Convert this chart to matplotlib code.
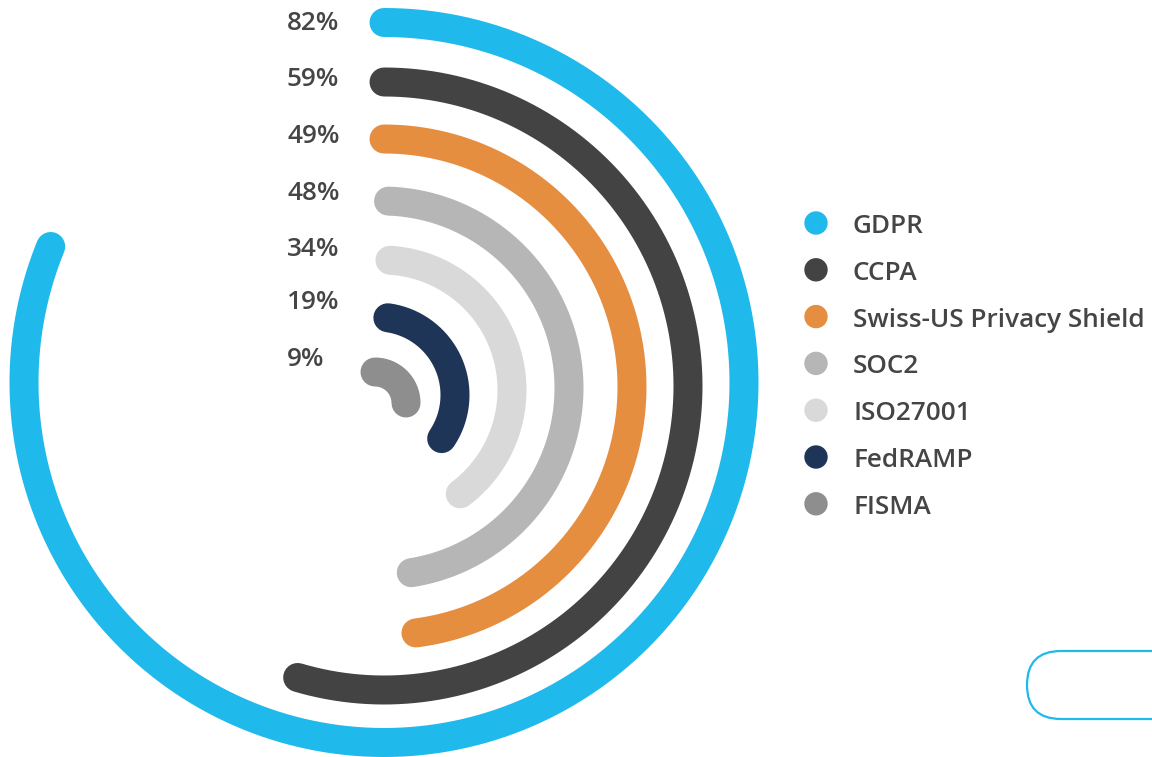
import numpy as np
import matplotlib
matplotlib.use("Agg")
import matplotlib.pyplot as plt
from matplotlib.patches import FancyBboxPatch, Circle

# ---- data ----
categories = ["GDPR", "CCPA", "Swiss-US Privacy Shield", "SOC2", "ISO27001", "FedRAMP", "FISMA"]
percent_values = [82, 59, 49, 48, 34, 19, 9]
# arc end angle (degrees clockwise from 12 o'clock) as drawn in the picture
arc_end_deg = [292.2, 196.5, 172.6, 171.0, 143.0, 124.0, 90.0]
colors = ["#1fb9ec", "#434343", "#e58e40", "#b6b6b6", "#d9d9d9", "#1e3558", "#8e8e8e"]

# ---- layout (pixels) ----
W, H = 1152, 757
ring_cx = [384, 384, 384, 382, 382, 377, 375]
ring_cy = [382.5, 386, 387, 388, 390, 395, 403]
ring_r = [360, 304, 248, 187, 130, 78, 31]
arc_start_deg = [0, 0, 0, 2, 3.5, 8, 0]
lw_px = 29
text_color = "#454545"
font = ["Open Sans", "DejaVu Sans"]
fsize = 18.8

fig = plt.figure(figsize=(W / 100, H / 100), dpi=100)
ax = fig.add_axes([0, 0, 1, 1])
ax.set_xlim(0, W)
ax.set_ylim(H, 0)
ax.axis("off")

lw_pt = lw_px * 72 / 100

for i, cat in enumerate(categories):
    th = np.radians(np.linspace(arc_start_deg[i], arc_end_deg[i], 400))
    x = ring_cx[i] + ring_r[i] * np.sin(th)
    y = ring_cy[i] - ring_r[i] * np.cos(th)
    ax.plot(x, y, color=colors[i], lw=lw_pt, solid_capstyle="round", zorder=2)

# percentage labels
label_baselines = [30, 86, 143, 200, 256, 309, 366]
for i, v in enumerate(percent_values):
    ax.text(287, label_baselines[i], f"{v}%", ha="left", va="baseline",
            fontsize=fsize, color=text_color, family=font, fontweight="semibold")

# legend
for i, cat in enumerate(categories):
    cy = 223 + i * 46.8
    ax.add_patch(Circle((816, cy), 11, color=colors[i], zorder=3))
    ax.text(853, cy + 10, cat, ha="left", va="baseline", fontsize=fsize,
            color=text_color, family=font, fontweight="semibold")

# decorative rounded outline bottom-right
ax.add_patch(FancyBboxPatch((1027, 651), 300, 68,
                            boxstyle="round,pad=0,rounding_size=34",
                            fill=False, ec="#1fb9ec", lw=1.6, zorder=1))

fig.savefig("out.png", dpi=100)
